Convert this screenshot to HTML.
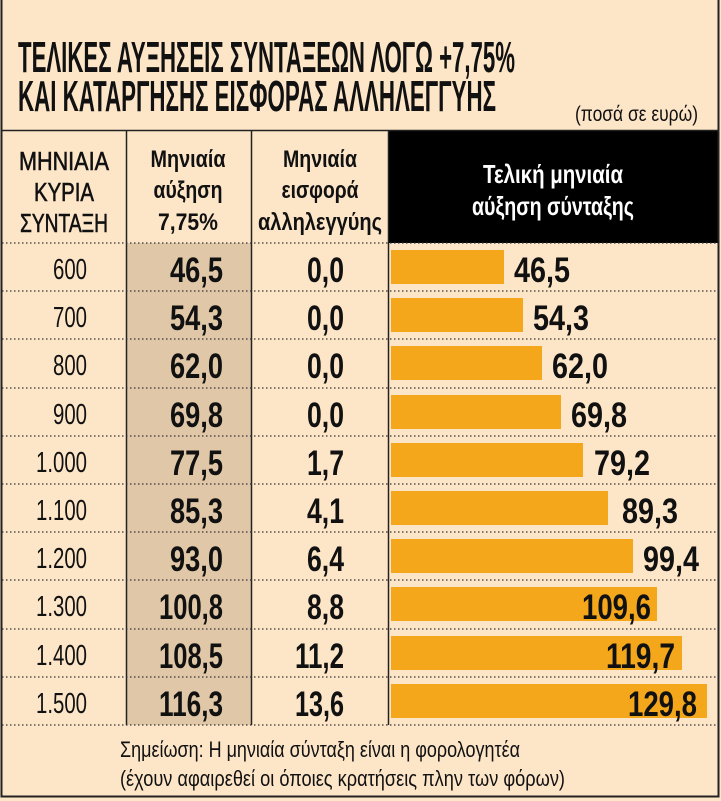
<!DOCTYPE html>
<html><head><meta charset="utf-8"><style>
html,body{margin:0;padding:0;background:#fde5c8;}
svg{display:block}
text{font-family:"Liberation Sans Narrow","Liberation Sans",sans-serif;}
.b{font-weight:bold}
</style></head><body>
<svg width="721" height="801" viewBox="0 0 721 801" xmlns="http://www.w3.org/2000/svg">
<rect x="0" y="0" width="721" height="801" fill="#fde5c8"/>
<text x="18" y="72" class="b" font-size="44" textLength="497" lengthAdjust="spacingAndGlyphs" fill="#111">ΤΕΛΙΚΕΣ ΑΥΞΗΣΕΙΣ ΣΥΝΤΑΞΕΩΝ ΛΟΓΩ +7,75%</text>
<text x="18" y="111" class="b" font-size="44" textLength="478" lengthAdjust="spacingAndGlyphs" fill="#111">ΚΑΙ ΚΑΤΑΡΓΗΣΗΣ ΕΙΣΦΟΡΑΣ ΑΛΛΗΛΕΓΓΥΗΣ</text>
<text x="575" y="121" font-size="21" textLength="123" lengthAdjust="spacingAndGlyphs" fill="#111">(ποσά σε ευρώ)</text>
<rect x="127" y="243" width="124" height="482" fill="#e0c7a7"/>
<rect x="388" y="130" width="331" height="113" fill="#000"/>
<line x1="2" y1="130.5" x2="719" y2="130.5" stroke="#222" stroke-width="1.5"/>
<line x1="126.5" y1="130" x2="126.5" y2="725" stroke="#222" stroke-width="1.5"/>
<line x1="251.5" y1="130" x2="251.5" y2="725" stroke="#222" stroke-width="1.5"/>
<line x1="388.5" y1="130" x2="388.5" y2="725" stroke="#222" stroke-width="1.5"/>
<g stroke="#333" stroke-width="1.3" stroke-dasharray="1.5,2.5">
<line x1="2" y1="243" x2="719" y2="243"/>
<line x1="2" y1="291" x2="719" y2="291"/>
<line x1="2" y1="339" x2="719" y2="339"/>
<line x1="2" y1="388" x2="719" y2="388"/>
<line x1="2" y1="436" x2="719" y2="436"/>
<line x1="2" y1="484" x2="719" y2="484"/>
<line x1="2" y1="532" x2="719" y2="532"/>
<line x1="2" y1="580" x2="719" y2="580"/>
<line x1="2" y1="629" x2="719" y2="629"/>
<line x1="2" y1="677" x2="719" y2="677"/>
<line x1="2" y1="725" x2="719" y2="725"/>
</g>
<rect x="1.5" y="-2" width="717" height="798.5" fill="none" stroke="#222" stroke-width="2"/>
<g font-size="26" fill="#111" text-anchor="middle" class="b" font-weight="bold">
<text x="64" y="170" textLength="90" lengthAdjust="spacingAndGlyphs" font-weight="normal" stroke="#111" stroke-width="0.6">ΜΗΝΙΑΙΑ</text>
<text x="64" y="201" textLength="60" lengthAdjust="spacingAndGlyphs" font-weight="normal" stroke="#111" stroke-width="0.6">ΚΥΡΙΑ</text>
<text x="64" y="232" textLength="88" lengthAdjust="spacingAndGlyphs" font-weight="normal" stroke="#111" stroke-width="0.6">ΣΥΝΤΑΞΗ</text>
</g>
<g font-size="24" class="b" fill="#111" text-anchor="middle">
<text x="188" y="167" textLength="75" lengthAdjust="spacingAndGlyphs">Μηνιαία</text>
<text x="188" y="198" textLength="69" lengthAdjust="spacingAndGlyphs">αύξηση</text>
<text x="188" y="230" textLength="60" lengthAdjust="spacingAndGlyphs">7,75%</text>
<text x="320" y="167" textLength="74" lengthAdjust="spacingAndGlyphs">Μηνιαία</text>
<text x="320" y="198" textLength="77" lengthAdjust="spacingAndGlyphs">εισφορά</text>
<text x="320" y="230" textLength="124" lengthAdjust="spacingAndGlyphs">αλληλεγγύης</text>
</g>
<g font-size="26" class="b" fill="#fff" text-anchor="middle">
<text x="553" y="183" textLength="140" lengthAdjust="spacingAndGlyphs">Τελική μηνιαία</text>
<text x="553" y="215" textLength="162" lengthAdjust="spacingAndGlyphs">αύξηση σύνταξης</text>
</g>
<g fill="#f5a71c">
<rect x="391" y="250" width="113" height="34"/>
<rect x="391" y="298" width="132" height="34"/>
<rect x="391" y="346" width="151" height="34"/>
<rect x="391" y="395" width="170" height="34"/>
<rect x="391" y="443" width="192" height="34"/>
<rect x="391" y="491" width="217" height="34"/>
<rect x="391" y="539" width="242" height="34"/>
<rect x="391" y="587" width="266" height="34"/>
<rect x="391" y="636" width="291" height="34"/>
<rect x="391" y="684" width="316" height="34"/>
</g>
<g font-size="29" fill="#111" lengthAdjust="spacingAndGlyphs">
<text x="53" y="279" textLength="34" lengthAdjust="spacingAndGlyphs">600</text>
<text x="53" y="327" textLength="34" lengthAdjust="spacingAndGlyphs">700</text>
<text x="53" y="375" textLength="34" lengthAdjust="spacingAndGlyphs">800</text>
<text x="53" y="424" textLength="34" lengthAdjust="spacingAndGlyphs">900</text>
<text x="36" y="472" textLength="51" lengthAdjust="spacingAndGlyphs">1.000</text>
<text x="36" y="520" textLength="51" lengthAdjust="spacingAndGlyphs">1.100</text>
<text x="36" y="568" textLength="51" lengthAdjust="spacingAndGlyphs">1.200</text>
<text x="36" y="616" textLength="51" lengthAdjust="spacingAndGlyphs">1.300</text>
<text x="36" y="665" textLength="51" lengthAdjust="spacingAndGlyphs">1.400</text>
<text x="36" y="713" textLength="51" lengthAdjust="spacingAndGlyphs">1.500</text>
</g>
<g font-size="35" class="b" fill="#111">
<text x="170" y="282" textLength="53" lengthAdjust="spacingAndGlyphs">46,5</text>
<text x="170" y="330" textLength="53" lengthAdjust="spacingAndGlyphs">54,3</text>
<text x="170" y="378" textLength="53" lengthAdjust="spacingAndGlyphs">62,0</text>
<text x="170" y="427" textLength="53" lengthAdjust="spacingAndGlyphs">69,8</text>
<text x="170" y="475" textLength="53" lengthAdjust="spacingAndGlyphs">77,5</text>
<text x="170" y="523" textLength="53" lengthAdjust="spacingAndGlyphs">85,3</text>
<text x="170" y="571" textLength="53" lengthAdjust="spacingAndGlyphs">93,0</text>
<text x="159" y="619" textLength="64" lengthAdjust="spacingAndGlyphs">100,8</text>
<text x="159" y="668" textLength="64" lengthAdjust="spacingAndGlyphs">108,5</text>
<text x="159" y="716" textLength="64" lengthAdjust="spacingAndGlyphs">116,3</text>
<text x="307" y="282" textLength="37" lengthAdjust="spacingAndGlyphs">0,0</text>
<text x="307" y="330" textLength="37" lengthAdjust="spacingAndGlyphs">0,0</text>
<text x="307" y="378" textLength="37" lengthAdjust="spacingAndGlyphs">0,0</text>
<text x="307" y="427" textLength="37" lengthAdjust="spacingAndGlyphs">0,0</text>
<text x="307" y="475" textLength="37" lengthAdjust="spacingAndGlyphs">1,7</text>
<text x="307" y="523" textLength="37" lengthAdjust="spacingAndGlyphs">4,1</text>
<text x="307" y="571" textLength="37" lengthAdjust="spacingAndGlyphs">6,4</text>
<text x="307" y="619" textLength="37" lengthAdjust="spacingAndGlyphs">8,8</text>
<text x="295" y="668" textLength="49" lengthAdjust="spacingAndGlyphs">11,2</text>
<text x="295" y="716" textLength="49" lengthAdjust="spacingAndGlyphs">13,6</text>
<text x="514" y="282" textLength="56" lengthAdjust="spacingAndGlyphs">46,5</text>
<text x="533" y="330" textLength="56" lengthAdjust="spacingAndGlyphs">54,3</text>
<text x="552" y="378" textLength="56" lengthAdjust="spacingAndGlyphs">62,0</text>
<text x="571" y="427" textLength="56" lengthAdjust="spacingAndGlyphs">69,8</text>
<text x="594" y="475" textLength="56" lengthAdjust="spacingAndGlyphs">79,2</text>
<text x="622" y="523" textLength="56" lengthAdjust="spacingAndGlyphs">89,3</text>
<text x="643" y="571" textLength="56" lengthAdjust="spacingAndGlyphs">99,4</text>
<text x="582" y="619" textLength="69" lengthAdjust="spacingAndGlyphs">109,6</text>
<text x="606" y="668" textLength="69" lengthAdjust="spacingAndGlyphs">119,7</text>
<text x="628" y="716" textLength="69" lengthAdjust="spacingAndGlyphs">129,8</text>
</g>
<g font-size="22" fill="#111">
<text x="120" y="757" textLength="400" lengthAdjust="spacingAndGlyphs">Σημείωση: Η μηνιαία σύνταξη είναι η φορολογητέα</text>
<text x="120" y="786" textLength="445" lengthAdjust="spacingAndGlyphs">(έχουν αφαιρεθεί οι όποιες κρατήσεις πλην των φόρων)</text>
</g>
</svg>
</body></html>
